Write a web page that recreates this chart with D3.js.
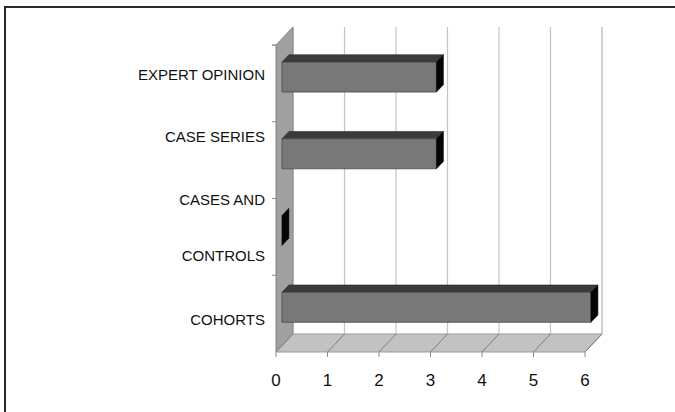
<!DOCTYPE html>
<html><head><meta charset="utf-8">
<script src="https://cdn.jsdelivr.net/npm/d3@7/dist/d3.min.js"></script>
<style>body{margin:0;background:#fff}svg{display:block}text{font-family:"Liberation Sans",Arial,sans-serif}</style>
</head><body><div id="chart"></div>
<script>
// ---- data ----
const categories = ["COHORTS", "CASES AND CONTROLS", "CASE SERIES", "EXPERT OPINION"];
const categoryLines = [["COHORTS"], ["CASES AND", "CONTROLS"], ["CASE SERIES"], ["EXPERT OPINION"]];
const values = [6, 0, 3, 3];
const xTicks = [0, 1, 2, 3, 4, 5, 6];

// ---- layout ----
const W = 675, H = 412;
const front = {left: 276, right: 585, top: 45, bottom: 352};
const depth = {dx: 17, dy: 18};
const barDepth = [0.35, 0.76];
const labelDy = [6, -9, -23, -9];   // label placement relative to band centre
const lineGap = 56;

const svg = d3.select("#chart").append("svg").attr("width", W).attr("height", H);

const x = d3.scaleLinear().domain([0, 6]).range([front.left, front.right]);
const y = d3.scaleBand().domain(categories).range([front.bottom, front.top]).paddingInner(0).paddingOuter(0);
const P = (v, yy, d) => [x(v) + depth.dx * d, yy - depth.dy * d];
const poly = pts => "M" + pts.map(p => p.join(",")).join("L") + "Z";

// outer frame
svg.append("rect").attr("x", 5).attr("y", 7).attr("width", W + 10).attr("height", H + 10)
  .attr("fill", "none").attr("stroke", "#2a2a2a").attr("stroke-width", 2);

// back wall gridlines
svg.append("g").selectAll("line").data(xTicks).join("line")
  .attr("x1", d => P(d, front.top, 1)[0]).attr("x2", d => P(d, front.top, 1)[0])
  .attr("y1", P(0, front.top, 1)[1]).attr("y2", P(0, front.bottom, 1)[1])
  .attr("stroke", d => d === 6 ? "#b0b0b0" : "#c4c4c4").attr("stroke-width", 1.2);

// side wall
svg.append("path")
  .attr("d", poly([P(0, front.top, 0), P(0, front.top, 1), P(0, front.bottom, 1), P(0, front.bottom, 0)]))
  .attr("fill", "#a0a0a0").attr("stroke", "#858585").attr("stroke-width", 1);

// floor
svg.append("path")
  .attr("d", poly([P(0, front.bottom, 0), P(0, front.bottom, 1), P(6, front.bottom, 1), P(6, front.bottom, 0)]))
  .attr("fill", "#c2c2c2").attr("stroke", "#9a9a9a").attr("stroke-width", 1);
svg.append("g").selectAll("line").data(xTicks).join("line")
  .attr("x1", d => P(d, front.bottom, 0)[0]).attr("y1", d => P(d, front.bottom, 0)[1])
  .attr("x2", d => P(d, front.bottom, 1)[0]).attr("y2", d => P(d, front.bottom, 1)[1])
  .attr("stroke", "#7f7f7f").attr("stroke-width", 1);

// x axis ticks & labels
const xg = svg.append("g");
xg.selectAll("line").data(xTicks).join("line")
  .attr("x1", d => x(d)).attr("x2", d => x(d)).attr("y1", front.bottom).attr("y2", front.bottom + 5)
  .attr("stroke", "#8a8a8a");
xg.selectAll("text").data(xTicks).join("text")
  .attr("x", d => x(d)).attr("y", front.bottom + 34).attr("text-anchor", "middle")
  .attr("font-size", 17).attr("fill", "#111").text(d => d);

// y axis ticks
const yb = categories.map(c => y(c)).concat([front.top]);
svg.append("g").selectAll("line").data(yb).join("line")
  .attr("x1", front.left - 4).attr("x2", front.left).attr("y1", d => d).attr("y2", d => d)
  .attr("stroke", "#8a8a8a");

// bars
const h = y.bandwidth() * 0.39;
const bars = svg.append("g");
categories.forEach((c, i) => {
  const cy = y(c) + y.bandwidth() / 2, t = cy - h / 2, b = cy + h / 2, v = values[i];
  const [d0, d1] = barDepth;
  const g = bars.append("g");
  if (v > 0) {
    g.append("path").attr("d", poly([P(0, t, d0), P(0, t, d1), P(v, t, d1), P(v, t, d0)]))
      .attr("fill", "#3b3b3b").attr("stroke", "#2a2a2a").attr("stroke-width", 0.6);
    g.append("path").attr("d", poly([P(0, t, d0), P(v, t, d0), P(v, b, d0), P(0, b, d0)]))
      .attr("fill", "#787878").attr("stroke", "#4a4a4a").attr("stroke-width", 0.8);
  }
  g.append("path").attr("d", poly([P(v, t, d0), P(v, t, d1), P(v, b, d1), P(v, b, d0)]))
    .attr("fill", "#050505").attr("stroke", "#111").attr("stroke-width", 0.6);
});

// category labels
const lab = svg.append("g");
categories.forEach((c, i) => {
  const lines = categoryLines[i];
  const cy = y(c) + y.bandwidth() / 2 + labelDy[i];
  lines.forEach((ln, j) => {
    lab.append("text").attr("x", 265).attr("y", cy + (j - (lines.length - 1) / 2) * lineGap)
      .attr("dy", "0.35em").attr("text-anchor", "end").attr("font-size", 15).attr("fill", "#111").text(ln);
  });
});
</script></body></html>
